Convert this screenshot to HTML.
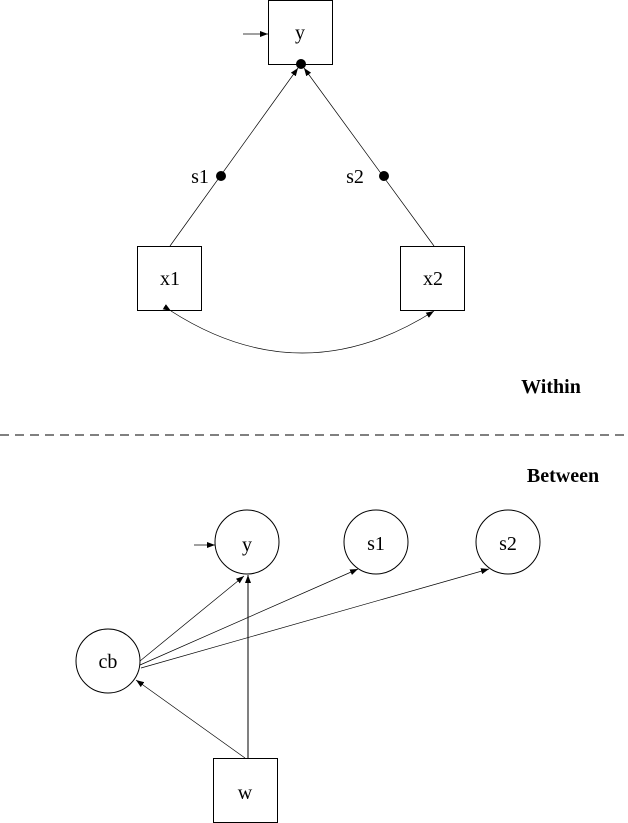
<!DOCTYPE html>
<html><head><style>body{margin:0;background:#fff}svg{display:block}text{font-family:"Liberation Serif",serif;font-size:20px;fill:#000}</style></head><body>
<svg width="628" height="823" viewBox="0 0 628 823" xmlns="http://www.w3.org/2000/svg">
<defs><marker id="a" markerWidth="8" markerHeight="6" refX="8" refY="3" orient="auto" markerUnits="userSpaceOnUse"><path d="M0,0L8,3L0,6z" fill="#000"/></marker></defs>
<g stroke="#000" fill="none" stroke-width="1">
<rect x="268.5" y="0.5" width="64" height="64"/>
<rect x="137.5" y="246.5" width="64" height="64"/>
<rect x="400.5" y="246.5" width="64" height="64"/>
<line x1="243" y1="34" x2="268" y2="34" marker-end="url(#a)" stroke-width="0.7"/>
<line x1="170" y1="246" x2="298" y2="68" marker-end="url(#a)" stroke-width="0.7"/>
<line x1="434" y1="246" x2="304" y2="68" marker-end="url(#a)" stroke-width="0.7"/>
<path d="M171,311 Q302,395 434,311" stroke-width="0.7" marker-start="url(#a)" marker-end="url(#a)"/>
<line x1="0" y1="435" x2="628" y2="435" stroke-dasharray="9,6"/>
<circle cx="247" cy="542" r="32"/>
<circle cx="376" cy="542" r="32"/>
<circle cx="508" cy="542" r="32"/>
<circle cx="108" cy="661" r="32"/>
<rect x="213.5" y="758.5" width="64" height="64"/>
<line x1="194" y1="545" x2="215" y2="545" marker-end="url(#a)" stroke-width="0.7"/>
<line x1="140" y1="661" x2="244" y2="576" marker-end="url(#a)" stroke-width="0.7"/>
<line x1="140" y1="665" x2="358" y2="569" marker-end="url(#a)" stroke-width="0.7"/>
<line x1="141" y1="668" x2="489" y2="569" marker-end="url(#a)" stroke-width="0.7"/>
<line x1="248" y1="758" x2="248" y2="575" marker-end="url(#a)"/>
<line x1="245" y1="758" x2="136" y2="680" marker-end="url(#a)" stroke-width="0.7"/>
</g>
<circle cx="301" cy="64" r="5"/><circle cx="221" cy="176" r="5"/><circle cx="384" cy="176" r="5"/>
<g text-anchor="middle">
<text x="300" y="39">y</text>
<text x="170" y="285">x1</text><text x="433" y="285">x2</text>
<text x="200" y="183">s1</text><text x="355" y="183">s2</text>
<text x="247" y="551">y</text><text x="376" y="550">s1</text><text x="508" y="550">s2</text>
<text x="108" y="668">cb</text><text x="245" y="799">w</text>
<text x="551" y="393" font-weight="bold">Within</text>
<text x="563" y="482" font-weight="bold">Between</text>
</g>
</svg></body></html>
